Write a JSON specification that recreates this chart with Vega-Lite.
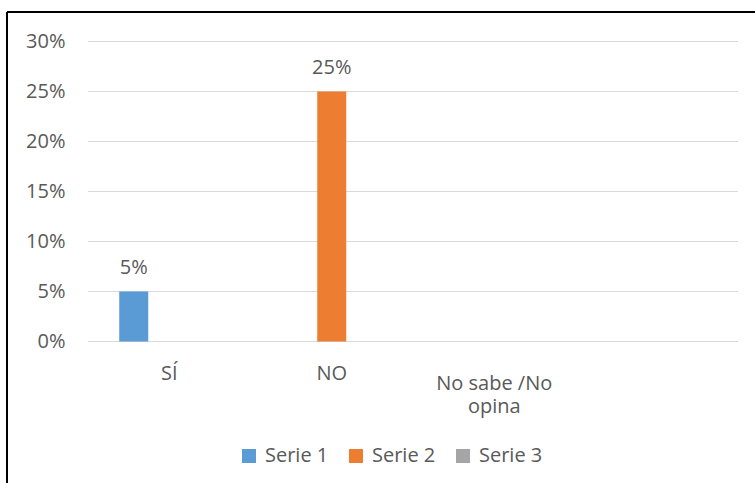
{
  "$schema": "https://vega.github.io/schema/vega-lite/v6.json",
  "width": 748,
  "height": 471,
  "padding": {"left": 7, "top": 12, "right": 0, "bottom": 0},
  "autosize": {"type": "none"},
  "background": "white",
  "config": {
    "font": "Open Sans",
    "view": {"stroke": "#000000", "strokeWidth": 2, "strokeDash": [748, 1219, 471, 0], "fill": "white"}
  },
  "datasets": {
    "bars": [
      {"cat": "SÍ", "serie": "Serie 1", "v": 0.05},
      {"cat": "NO", "serie": "Serie 2", "v": 0.25}
    ],
    "grid": [
      {"g": 0}, {"g": 0.05}, {"g": 0.1}, {"g": 0.15}, {"g": 0.2}, {"g": 0.25}, {"g": 0.3}
    ]
  },
  "layer": [
    {
      "data": {"name": "grid"},
      "mark": {"type": "rule", "color": "#D9D9D9", "strokeWidth": 1.2},
      "encoding": {
        "y": {"field": "g", "type": "quantitative", "title": null},
        "x": {"datum": "SÍ", "type": "nominal", "bandPosition": 0, "title": null},
        "x2": {"datum": " ", "bandPosition": 1}
      }
    },
    {
      "data": {"name": "bars"},
      "mark": {"type": "bar"},
      "encoding": {
        "x": {
          "field": "cat", "type": "nominal", "title": null,
          "scale": {"domain": ["SÍ", "NO", "No sabe /No opina", " "], "paddingInner": 0, "paddingOuter": 0.3015, "align": 0.8265},
          "axis": {
            "orient": "bottom", "offset": -141.5, "domain": false, "ticks": false, "tickSize": 0,
            "labelPadding": 32, "labelAngle": 0, "labelAlign": "center", "labelFontSize": 20, "labelColor": "#595959",
            "labelLineHeight": 23,
            "labelBaseline": {"condition": {"test": "datum.value == 'No sabe /No opina'", "value": "top"}, "value": "middle"},
            "labelExpr": "datum.value == 'No sabe /No opina' ? ['No sabe /No', 'opina'] : datum.value"
          }
        },
        "xOffset": {
          "field": "serie", "type": "nominal",
          "scale": {"domain": ["Serie 1", "Serie 2", "Serie 3"], "paddingInner": 0.183, "paddingOuter": 0.88}
        },
        "y": {
          "field": "v", "type": "quantitative", "title": null,
          "scale": {"domain": [-0.1415, 0.3295], "nice": false, "zero": false},
          "axis": {
            "values": [0, 0.05, 0.1, 0.15, 0.2, 0.25, 0.3], "format": ".0%", "grid": false,
            "domain": false, "ticks": false, "tickSize": 0, "offset": -60, "labelPadding": 2,
            "labelFontSize": 20, "labelColor": "#595959"
          }
        },
        "y2": {"datum": 0},
        "color": {
          "field": "serie", "type": "nominal", "title": null,
          "scale": {"domain": ["Serie 1", "Serie 2", "Serie 3"], "range": ["#5B9BD5", "#ED7D31", "#A5A5A5"]},
          "legend": {
            "orient": "none", "direction": "horizontal", "legendX": 232, "legendY": 434,
            "symbolType": "square", "symbolSize": 196, "symbolStrokeWidth": 0,
            "labelFontSize": 20, "labelColor": "#595959", "labelOffset": 6, "columnPadding": 17,
            "padding": 0
          }
        }
      }
    },
    {
      "data": {"name": "bars"},
      "mark": {"type": "text", "baseline": "alphabetic", "dy": -18, "fontSize": 20, "color": "#595959"},
      "encoding": {
        "x": {"field": "cat", "type": "nominal", "title": null},
        "xOffset": {"field": "serie", "type": "nominal"},
        "y": {"field": "v", "type": "quantitative", "title": null},
        "text": {"field": "v", "type": "quantitative", "format": ".0%"}
      }
    }
  ]
}
